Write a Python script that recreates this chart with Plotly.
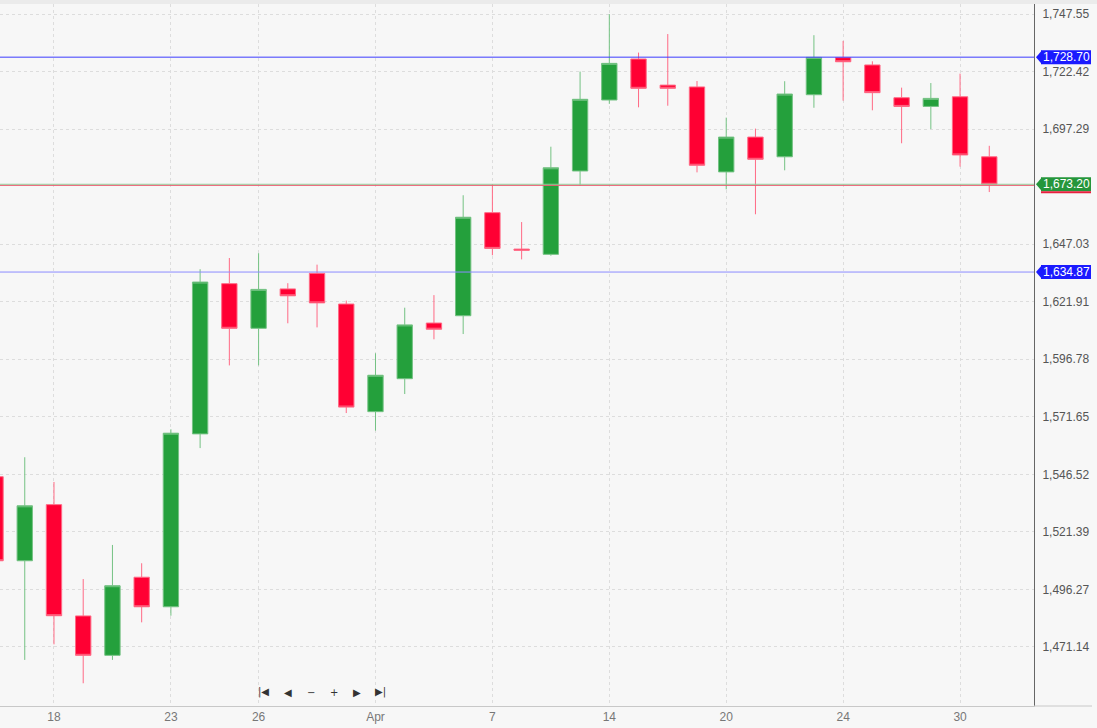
import plotly.graph_objects as go

# ---------------- data ----------------
dates = ["2020-03-16", "2020-03-17", "2020-03-18", "2020-03-19", "2020-03-20", "2020-03-22",
         "2020-03-23", "2020-03-24", "2020-03-25", "2020-03-26", "2020-03-27", "2020-03-30",
         "2020-03-31", "2020-04-01", "2020-04-02", "2020-04-03", "2020-04-06", "2020-04-07",
         "2020-04-08", "2020-04-09", "2020-04-13", "2020-04-14", "2020-04-15", "2020-04-16",
         "2020-04-17", "2020-04-20", "2020-04-21", "2020-04-22", "2020-04-23", "2020-04-24",
         "2020-04-27", "2020-04-28", "2020-04-29", "2020-04-30", "2020-05-01"]
open_ = [1545.5, 1508.8, 1533.3, 1484.7, 1467.5, 1501.6, 1488.7, 1564.2, 1629.8, 1610.3,
         1627.5, 1634.3, 1620.9, 1573.9, 1588.3, 1612.6, 1615.8, 1660.8, 1644.9, 1642.6,
         1679.0, 1710.0, 1727.9, 1716.5, 1715.7, 1678.6, 1693.8, 1685.2, 1712.3, 1728.5,
         1725.3, 1711.0, 1707.2, 1711.4, 1685.2]
high = [1548.0, 1554.0, 1543.2, 1500.8, 1515.7, 1507.7, 1566.2, 1636.1, 1641.0, 1643.1,
        1630.0, 1638.1, 1622.4, 1599.4, 1619.3, 1624.8, 1668.4, 1673.3, 1656.7, 1689.6,
        1722.4, 1747.5, 1730.7, 1738.8, 1718.3, 1702.3, 1697.5, 1718.2, 1738.3, 1735.8,
        1726.9, 1715.4, 1717.4, 1721.5, 1690.0]
low = [1505.0, 1465.5, 1472.3, 1455.3, 1465.5, 1481.9, 1484.8, 1558.0, 1594.1, 1594.1,
       1612.5, 1610.7, 1573.3, 1565.6, 1581.6, 1605.5, 1607.8, 1642.2, 1640.4, 1642.0,
       1672.6, 1708.3, 1706.8, 1707.5, 1678.4, 1671.0, 1660.1, 1679.3, 1706.6, 1709.7,
       1705.5, 1691.1, 1697.3, 1680.9, 1669.8]
close = [1508.8, 1532.8, 1484.8, 1467.5, 1497.9, 1488.7, 1564.5, 1630.5, 1610.3, 1627.3,
         1624.5, 1621.4, 1575.9, 1589.8, 1611.8, 1609.9, 1658.8, 1645.2, 1644.4, 1680.4,
         1710.3, 1726.0, 1715.1, 1715.1, 1681.5, 1693.8, 1684.1, 1712.6, 1728.6, 1726.7,
         1713.2, 1707.2, 1710.7, 1686.0, 1673.2]

x_tick_dates = ["2020-03-18", "2020-03-23", "2020-03-26", "2020-04-01", "2020-04-07",
                "2020-04-14", "2020-04-20", "2020-04-24", "2020-04-30"]
x_tick_text = ["18", "23", "26", "Apr", "7", "14", "20", "24", "30"]

# (the 1,672.16 tick sits hidden behind the last-price label in the reference)
y_ticks = [1471.14, 1496.27, 1521.39, 1546.52, 1571.65, 1596.78, 1621.91, 1647.03,
           1697.29, 1722.42, 1747.55]

resistance = 1728.70
last_price = 1673.20
support = 1634.87

# ---------------- styles ----------------
GREEN = "#24a03c"
RED = "#ff0033"
BG = "#f7f7f7"
FONT = "Arial, Liberation Sans, sans-serif"

fig = go.Figure()
fig.add_trace(go.Candlestick(
    x=dates, open=open_, high=high, low=low, close=close,
    increasing=dict(fillcolor=GREEN, line=dict(color="#74c283", width=1)),
    decreasing=dict(fillcolor=RED, line=dict(color="#ff6a85", width=1)),
    whiskerwidth=0, showlegend=False, hoverinfo="skip",
))

shapes = []
# horizontal level lines
shapes.append(dict(type="line", xref="paper", x0=0, x1=1, yref="y", y0=resistance, y1=resistance,
                   line=dict(color="#3c3cff", width=1)))
shapes.append(dict(type="line", xref="paper", x0=0, x1=1, yref="y", y0=support, y1=support,
                   line=dict(color="#8c8cff", width=1)))
shapes.append(dict(type="line", xref="paper", x0=0, x1=1, yref="y", y0=last_price, y1=last_price,
                   line=dict(color="#8fd09b", width=1)))
shapes.append(dict(type="line", xref="paper", x0=0, x1=1, yref="y", y0=last_price - 0.5, y1=last_price - 0.5,
                   line=dict(color="#ec6075", width=1)))
# top band
shapes.append(dict(type="rect", xref="paper", x0=0, x1=1097 / 1034, yref="paper",
                   y0=1, y1=1 + 4 / 702, fillcolor="#ebebeb", line=dict(width=0), layer="below"))
# extend bottom axis line to the right
shapes.append(dict(type="line", xref="paper", x0=1, x1=1092 / 1034, yref="paper", y0=0, y1=0,
                   line=dict(color="#c8c8c8", width=1)))

annotations = []
for val, col in [(resistance, "#1a1aff"), (last_price, "#25963b"), (support, "#1a1aff")]:
    shapes.append(dict(type="path", xref="paper", xsizemode="pixel", xanchor=1.0,
                       yref="y", ysizemode="pixel", yanchor=val,
                       path="M 2,0 L 8,7 L 8,-7 Z", fillcolor=col, line=dict(width=0)))
    shapes.append(dict(type="rect", xref="paper", xsizemode="pixel", xanchor=1.0,
                       yref="y", ysizemode="pixel", yanchor=val,
                       x0=7, x1=57, y0=-7, y1=7, fillcolor=col, line=dict(width=0)))
    annotations.append(dict(xref="paper", x=1.0, xshift=32, xanchor="center",
                            yref="y", y=val, yanchor="middle", showarrow=False,
                            text=f"{val:,.2f}", font=dict(family=FONT, size=12, color="white")))
# red underline below last price label
shapes.append(dict(type="rect", xref="paper", xsizemode="pixel", xanchor=1.0,
                   yref="y", ysizemode="pixel", yanchor=last_price,
                   x0=7, x1=57, y0=-9, y1=-7, fillcolor="#e8203f", line=dict(width=0)))

# navigation buttons
nav = [(263, "|◀"), (288, "◀"), (311, "−"), (334, "+"), (357, "▶"), (380, "▶|")]
for px, t in nav:
    annotations.append(dict(xref="paper", x=px / 1034, yref="paper", y=(706 - 692) / 702,
                            xanchor="center", yanchor="middle", showarrow=False, text=t,
                            font=dict(family="DejaVu Sans", size=10, color="#333333")))

fig.update_layout(
    width=1097, height=728,
    margin=dict(l=0, r=63, t=4, b=22),
    paper_bgcolor=BG, plot_bgcolor=BG,
    shapes=shapes, annotations=annotations,
    showlegend=False,
    font=dict(family=FONT),
    boxgap=0.25,
    xaxis=dict(type="category", range=[0.153, 35.53], rangeslider=dict(visible=False),
               tickmode="array", tickvals=x_tick_dates, ticktext=x_tick_text,
               showgrid=True, gridcolor="#dddddd", griddash="3px,3px", gridwidth=1,
               showline=True, linecolor="#c8c8c8", linewidth=1, ticks="",
               tickfont=dict(family=FONT, size=12, color="#777777"), zeroline=False,
               fixedrange=True),
    yaxis=dict(side="right", range=[1445.37, 1751.92], tickmode="array", tickvals=y_ticks,
               tickformat=",.2f", showgrid=True, gridcolor="#dddddd", griddash="3px,3px",
               gridwidth=1, showline=True, linecolor="#666666", linewidth=1, ticks="",
               ticklabelstandoff=5,
               tickfont=dict(family=FONT, size=12, color="#555555"), zeroline=False,
               fixedrange=True),
)

fig.write_html("out.html", config={"displayModeBar": False},
               post_script="document.body.style.margin='0';document.body.style.overflow='hidden';")
